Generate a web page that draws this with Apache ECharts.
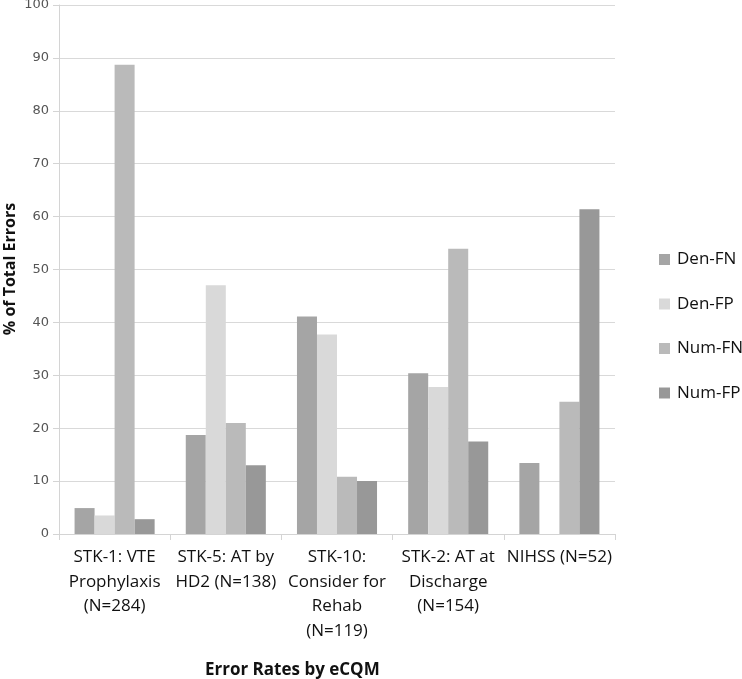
<!DOCTYPE html>
<html>
<head>
<meta charset="utf-8">
<script src="https://cdn.jsdelivr.net/npm/echarts@6/dist/echarts.min.js"></script>
<style>html,body{margin:0;padding:0;background:#fff;}#c{width:742px;height:679px;}</style>
</head>
<body>
<div id="c"></div>
<script>
const categories = [
  "STK-1: VTE\nProphylaxis\n(N=284)",
  "STK-5: AT by\nHD2 (N=138)",
  "STK-10:\nConsider for\nRehab\n(N=119)",
  "STK-2: AT at\nDischarge\n(N=154)",
  "NIHSS (N=52)"
];
const seriesNames = ["Den-FN", "Den-FP", "Num-FN", "Num-FP"];
const denFN = [4.9, 18.7, 41.1, 30.4, 13.4];
const denFP = [3.5, 47.0, 37.7, 27.8, 0];
const numFN = [88.7, 21.0, 10.8, 53.9, 25.0];
const numFP = [2.8, 13.0, 10.0, 17.5, 61.4];
const yTicks = [0, 10, 20, 30, 40, 50, 60, 70, 80, 90, 100];
const colors = ["#a5a5a5", "#d9d9d9", "#bababa", "#989898"];
const yTitle = '% of Total Errors';
const xTitle = 'Error Rates by eCQM';

const font = "'Open Sans', 'Liberation Sans', sans-serif";
const values = [denFN, denFP, numFN, numFP];
const chart = echarts.init(document.getElementById('c'), null, {renderer: 'canvas'});
chart.setOption({
  animation: false,
  color: colors,
  grid: {left: 59, right: 127, top: 5, bottom: 145, containLabel: false, outerBoundsMode: 'none'},
  legend: {
    orient: 'vertical', left: 654, top: 246, itemWidth: 11, itemHeight: 11,
    itemGap: 27.5, icon: 'rect',
    textStyle: {fontFamily: font, fontSize: 17, color: '#111', padding: [0, 0, 0, 2]},
    data: seriesNames
  },
  title: {
    text: xTitle, left: 200, top: 657,
    textStyle: {fontFamily: font, fontSize: 17, fontWeight: 'bold', color: '#111'}
  },
  graphic: [{
    type: 'text', x: 10, y: 269, rotation: Math.PI / 2,
    style: {text: yTitle, fontFamily: font, fontSize: 16, fontWeight: 'bold', fill: '#111',
            align: 'center', verticalAlign: 'middle'}
  }],
  xAxis: {
    type: 'category', data: categories,
    axisLine: {lineStyle: {color: '#d4d4d4'}},
    axisTick: {show: true, length: 6, lineStyle: {color: '#d4d4d4'}},
    axisLabel: {interval: 0, fontFamily: font, fontSize: 17, color: '#111', lineHeight: 24.5, margin: 11}
  },
  yAxis: {
    type: 'value', min: yTicks[0], max: yTicks[yTicks.length - 1], interval: 10,
    axisLine: {show: true, lineStyle: {color: '#d4d4d4'}},
    axisTick: {show: true, length: 6, lineStyle: {color: '#d4d4d4'}},
    axisLabel: {fontFamily: "'DejaVu Sans', sans-serif", fontSize: 13, color: '#555', margin: 10},
    splitLine: {lineStyle: {color: '#d9d9d9'}}
  },
  series: seriesNames.map((n, i) => ({
    name: n, type: 'bar', data: values[i], barGap: '0%', barCategoryGap: '28%',
    itemStyle: {color: colors[i]}
  }))
});
</script>
</body>
</html>
